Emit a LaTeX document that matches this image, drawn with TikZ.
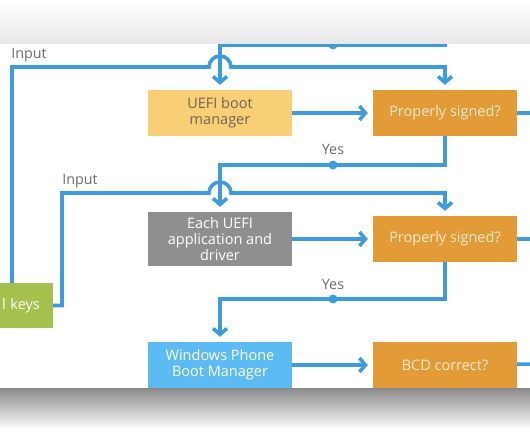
\documentclass[tikz,border=0pt]{standalone}
\usepackage{fontspec}
\setmainfont{Open Sans}
\usepackage{xcolor}
\usetikzlibrary{arrows.meta}
\definecolor{flow}{HTML}{3E9BDF}
\definecolor{mgrcol}{HTML}{F8CE76}
\definecolor{mgrtext}{HTML}{6F6553}
\definecolor{signcol}{HTML}{E39B38}
\definecolor{signtext}{HTML}{FDEBD0}
\definecolor{appcol}{HTML}{8F8F8F}
\definecolor{wpcol}{HTML}{5CBBF2}
\definecolor{keycol}{HTML}{A3C14C}
\definecolor{lbltext}{HTML}{6A6A6A}
\tikzset{
  box/.style={rectangle, minimum width=144, minimum height=46, inner sep=2pt,
    align=center, text=white, font=\fontsize{14.5}{16}\selectfont},
  check/.style={box, fill=signcol, text=signtext},
  lbl/.style={text=lbltext, inner sep=0pt, font=\fontsize{14.3}{16}\selectfont},
  wire/.style={draw=flow, line width=3.6pt},
  arr/.style={wire, -{Straight Barb[length=6pt,width=14pt]}, shorten >=5pt},
}
\begin{document}
\begin{tikzpicture}[x=1pt,y=-1pt]
\useasboundingbox (0,0) rectangle (530,442);
\begin{scope}
\clip (0,0) rectangle (530,442);
\node[box, fill=mgrcol, text=mgrtext] (mgr) at (220,113) {UEFI boot\\manager};
\node[check] (sigA) at (445,113) {Properly signed?};
\node[box, fill=appcol, minimum height=54] (app) at (220,239) {Each UEFI\\application and\\driver};
\node[check] (sigB) at (445,239) {Properly signed?};
\node[box, fill=wpcol] (wpbm) at (220,365) {Windows Phone\\Boot Manager};
\node[check] (bcd) at (445,365) {BCD correct?};
\node[box, fill=keycol, minimum width=53, minimum height=45, text width=49, inner xsep=2pt, align=left] (keys) at (26.5,305.5) {l keys};
\coordinate (top) at (445,30);
\coordinate (yes0) at (333,45);
\coordinate (yesA) at (333,165);
\coordinate (yesB) at (333,299);
\coordinate (inA) at (12,67);
\coordinate (jumpA) at (220,67);
\coordinate (inB) at (62,193);
\coordinate (jumpB) at (220,193);
\coordinate (outA) at (540,113);
\coordinate (outB) at (540,239);
\coordinate (outC) at (540,364);
\coordinate (bottom) at (445,410);
\draw[arr] (top) |- (yes0) -| (mgr.north);
\draw[arr] (keys.north -| inA) -- (inA) -- ([xshift=-11]jumpA) arc[start angle=180, end angle=360, radius=11] -| (sigA.north);
\draw[arr] (mgr) -- (sigA);
\draw[wire] (sigA) -- (outA);
\draw[arr] (sigA.south) |- (yesA) -| (app.north);
\draw[arr] (keys.east) -| (inB) -- ([xshift=-11]jumpB) arc[start angle=180, end angle=360, radius=11] -| (sigB.north);
\draw[arr] (app) -- (sigB);
\draw[wire] (sigB) -- (outB);
\draw[arr] (sigB.south) |- (yesB) -| (wpbm.north);
\draw[arr] (wpbm) -- (bcd);
\draw[wire] (bcd) -- (outC);
\draw[wire] (bcd.south) -- (bottom);
\foreach \d in {yes0,yesA,yesB}
  \fill[flow] (\d) circle[radius=4.5];
\node[lbl] (inAl) at (29,55) {Input};
\node[lbl] (inBl) at (80,181) {Input};
\node[lbl] (yesAl) at (333,149) {Yes};
\node[lbl] (yesBl) at (333,284) {Yes};
\end{scope}
\shade[top color=white, bottom color=black!9] (0,0) rectangle (530,43);
\shade[top color=black!46, bottom color=white] (0,388) rectangle (530,430);
\fill[white] (0,430) rectangle (530,442);
\end{tikzpicture}
\end{document}
